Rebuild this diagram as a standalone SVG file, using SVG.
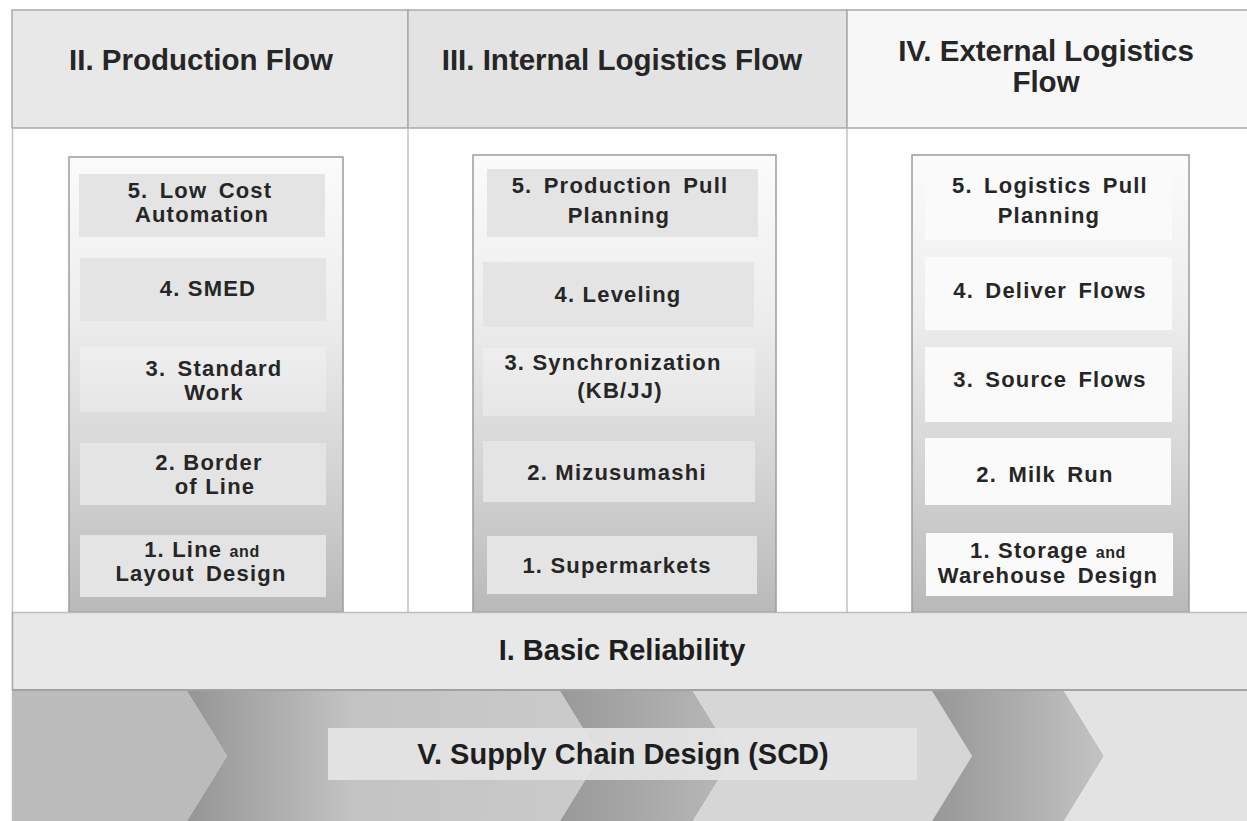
<svg xmlns="http://www.w3.org/2000/svg" width="1247" height="821" viewBox="0 0 1247 821">
  <defs>
    <linearGradient id="panelGrad" x1="0" y1="0" x2="0" y2="1">
      <stop offset="0" stop-color="#fbfbfb"/>
      <stop offset="0.35" stop-color="#ededed"/>
      <stop offset="0.7" stop-color="#d3d3d3"/>
      <stop offset="1" stop-color="#b9b9b9"/>
    </linearGradient>
    <linearGradient id="shadeA" x1="0" y1="0" x2="1" y2="0">
      <stop offset="0" stop-color="#959595"/>
      <stop offset="0.4" stop-color="#c3c3c3"/>
      <stop offset="1" stop-color="#cbcbcb"/>
    </linearGradient>
    <linearGradient id="shadeB" x1="0" y1="0" x2="1" y2="0">
      <stop offset="0" stop-color="#999999"/>
      <stop offset="1" stop-color="#b9b9b9"/>
    </linearGradient>
    <linearGradient id="shadeC" x1="0" y1="0" x2="1" y2="0">
      <stop offset="0" stop-color="#979797"/>
      <stop offset="1" stop-color="#c3c3c3"/>
    </linearGradient>
    <linearGradient id="itemSoft" x1="0" y1="0" x2="0" y2="1">
      <stop offset="0" stop-color="#eeeeee"/>
      <stop offset="1" stop-color="#e6e6e6"/>
    </linearGradient>
    <style>
      .frame { stroke: #a9a9a9; stroke-width: 1.5; }
      .divider { stroke: #c2c2c2; stroke-width: 1.5; fill: none; }
      .head { font-family: "Liberation Sans", Arial, sans-serif; font-weight: bold; font-size: 29.5px; fill: #262626; text-anchor: middle; }
      .panel { fill: url(#panelGrad); stroke: #9c9c9c; stroke-width: 1.5; }
      .itemG { fill: #e4e4e4; }
      .itemS { fill: url(#itemSoft); }
      .itemW { fill: #fafafa; }
      .lbl { font-family: "Liberation Sans", Arial, sans-serif; font-weight: bold; font-size: 22px; letter-spacing: 1.2px; fill: #262626; text-anchor: middle; }
      .wide { word-spacing: 4px; }
      .small { font-size: 16px; letter-spacing: 0.6px; }
      .big { font-family: "Liberation Sans", Arial, sans-serif; font-weight: bold; font-size: 29px; fill: #1e1e1e; text-anchor: middle; }
    </style>
  </defs>

  <rect width="1247" height="821" fill="#ffffff"/>

  <!-- header row -->
  <g id="headers">
    <rect x="12" y="10" width="396" height="118" fill="#e8e8e8" class="frame"/>
    <rect x="408" y="10" width="439" height="118" fill="#e3e3e3" class="frame"/>
    <rect x="847" y="10" width="401" height="118" fill="#f7f7f7" class="frame"/>
    <text class="head" x="201" y="70">II. Production Flow</text>
    <text class="head" x="622" y="70">III. Internal Logistics Flow</text>
    <text class="head" x="1046" y="61">IV. External Logistics</text>
    <text class="head" x="1046" y="92">Flow</text>
  </g>

  <!-- body frame lines -->
  <g id="body-lines">
    <line class="divider" x1="12.5" y1="128" x2="12.5" y2="821"/>
    <line class="divider" x1="408" y1="128" x2="408" y2="612"/>
    <line class="divider" x1="847" y1="128" x2="847" y2="612"/>
  </g>

  <!-- II. Production Flow column -->
  <g id="production-flow">
    <rect class="panel" x="69" y="157" width="274" height="455"/>
    <rect class="itemG" x="79" y="174" width="246" height="63"/>
    <rect class="itemG" x="80" y="258" width="246" height="63"/>
    <rect class="itemS" x="80" y="347" width="246" height="65"/>
    <rect class="itemG" x="80" y="443" width="246" height="62"/>
    <rect class="itemG" x="80" y="535" width="246" height="62"/>
    <text class="lbl wide" x="200" y="198">5. Low Cost</text>
    <text class="lbl" x="202" y="222">Automation</text>
    <text class="lbl" x="208" y="296">4. SMED</text>
    <text class="lbl wide" x="214" y="376">3. Standard</text>
    <text class="lbl" x="214" y="400">Work</text>
    <text class="lbl" x="209" y="470">2. Border</text>
    <text class="lbl" x="215" y="494">of Line</text>
    <text class="lbl" x="202" y="557">1. Line <tspan class="small">and</tspan></text>
    <text class="lbl wide" x="201" y="581">Layout Design</text>
  </g>

  <!-- III. Internal Logistics Flow column -->
  <g id="internal-logistics-flow">
    <rect class="panel" x="473" y="155" width="303" height="457"/>
    <rect class="itemG" x="487" y="169" width="271" height="68"/>
    <rect class="itemG" x="483" y="262" width="271" height="65"/>
    <rect class="itemS" x="483" y="348" width="272" height="68"/>
    <rect class="itemG" x="483" y="441" width="272" height="61"/>
    <rect class="itemG" x="487" y="536" width="270" height="58"/>
    <text class="lbl wide" x="620" y="193">5. Production Pull</text>
    <text class="lbl" x="619" y="223">Planning</text>
    <text class="lbl" x="618" y="302">4. Leveling</text>
    <text class="lbl" x="613" y="370">3. Synchronization</text>
    <text class="lbl" x="620" y="398">(KB/JJ)</text>
    <text class="lbl" x="617" y="480">2. Mizusumashi</text>
    <text class="lbl" x="617" y="573">1. Supermarkets</text>
  </g>

  <!-- IV. External Logistics Flow column -->
  <g id="external-logistics-flow">
    <rect class="panel" x="912" y="155" width="277" height="457"/>
    <rect class="itemW" x="925" y="168" width="247" height="72"/>
    <rect class="itemW" x="925" y="257" width="247" height="73"/>
    <rect class="itemW" x="925" y="347" width="247" height="75"/>
    <rect class="itemW" x="925" y="438" width="246" height="67"/>
    <rect class="itemW" x="926" y="533" width="247" height="63"/>
    <text class="lbl wide" x="1050" y="193">5. Logistics Pull</text>
    <text class="lbl" x="1049" y="223">Planning</text>
    <text class="lbl wide" x="1050" y="298">4. Deliver Flows</text>
    <text class="lbl wide" x="1050" y="387">3. Source Flows</text>
    <text class="lbl wide" x="1045" y="482">2. Milk Run</text>
    <text class="lbl" x="1048" y="558">1. Storage <tspan class="small">and</tspan></text>
    <text class="lbl wide" x="1048" y="583">Warehouse Design</text>
  </g>

  <!-- I. Basic Reliability bar -->
  <g id="basic-reliability">
    <rect x="12" y="612" width="1236" height="78" fill="#e8e8e8"/>
    <line x1="12" y1="612.5" x2="1247" y2="612.5" stroke="#bdbdbd" stroke-width="1.5"/>
    <line x1="12" y1="690" x2="1247" y2="690" stroke="#a2a2a2" stroke-width="2"/>
    <line x1="12.5" y1="612" x2="12.5" y2="690" stroke="#a9a9a9" stroke-width="1.5"/>
    <text class="big" x="622" y="660">I. Basic Reliability</text>
  </g>

  <!-- V. Supply Chain Design: chevron band -->
  <g id="supply-chain-design">
    <polygon points="12,691 187,691 227,756 187,821 12,821" fill="#bbbbbb"/>
    <polygon points="187,691 560,691 600,756 560,821 187,821 227,756" fill="url(#shadeA)"/>
    <polygon points="560,691 693,691 733,756 693,821 560,821 600,756" fill="url(#shadeB)"/>
    <polygon points="693,691 932,691 972,756 932,821 693,821 733,756" fill="#d6d6d6"/>
    <polygon points="932,691 1064,691 1104,756 1064,821 932,821 972,756" fill="url(#shadeC)"/>
    <polygon points="1064,691 1247,691 1247,821 1064,821 1104,756" fill="#e3e3e3"/>
    <rect x="328" y="728" width="589" height="52" fill="#e4e4e4" fill-opacity="0.93"/>
    <text class="big" x="623" y="764">V. Supply Chain Design (SCD)</text>
  </g>
</svg>
